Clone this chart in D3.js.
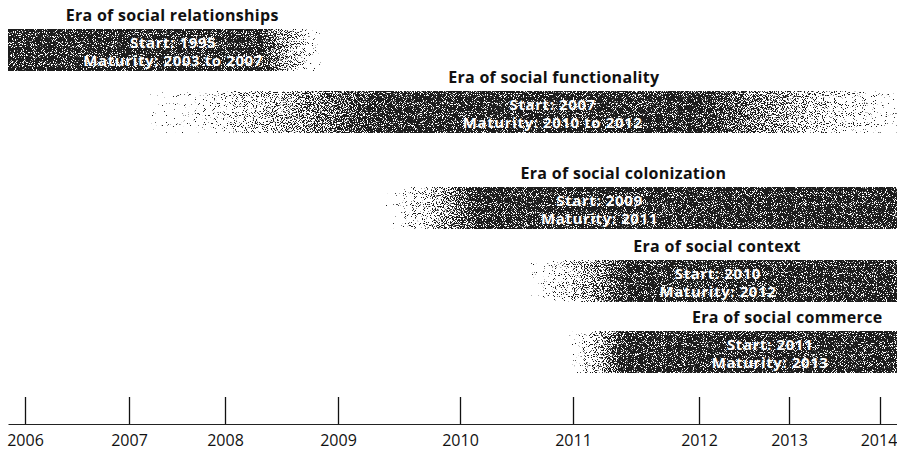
<!DOCTYPE html>
<html>
<head>
<meta charset="utf-8">
<script src="https://cdn.jsdelivr.net/npm/d3@7"></script>
<style>
  html, body { margin: 0; padding: 0; background: #fff; }
  svg { display: block; }
</style>
</head>
<body>
<svg id="chart" width="897" height="451"></svg>
<script>
// Timeline eras of social media
const eras = [
  "Era of social relationships",
  "Era of social functionality",
  "Era of social colonization",
  "Era of social context",
  "Era of social commerce"
];
const startYears = ["1995", "2007", "2009", "2010", "2011"];
const maturityYears = ["2003 to 2007", "2010 to 2012", "2011", "2012", "2013"];

// Extent of each era band along the timeline (in years)
const fadeInFrom = [2005.84, 2007.2, 2009.4, 2010.6, 2010.95];
const solidFrom  = [2005.84, 2009.35, 2010.15, 2011.45, 2011.4];
const solidTo    = [2008.3, 2012.0, 2014.19, 2014.19, 2014.19];
const fadeOutTo  = [2008.85, 2014.19, 2014.19, 2014.19, 2014.19];

const tickYears = [2006, 2007, 2008, 2009, 2010, 2011, 2012, 2013, 2014];

// ---- layout ----
const width = 897, height = 451;
const axisY = 424, tickLen = 27, bandH = 42;
// uneven year spacing of the timeline ruler
const axisDomain = [2005.84, ...tickYears, 2014.19];
const axisRange  = [8, 25, 129, 225, 338, 460, 573, 699, 789, 880, 897];
const rowTops = [29, 91, 187, 260, 331];
const titleAt = [2007.45, 2010.83, 2011.4, 2012.2, 2012.98];
const noteAt  = [2007.46, 2010.82, 2011.21, 2012.21, 2012.79];
const fontStack = "'Open Sans', Lato, sans-serif";
const peak = 0.69;   // density of the stipple in the solid part of a band

const x = d3.scaleLinear().domain(axisDomain).range(axisRange);
const y = d3.scaleOrdinal().domain(eras).range(rowTops);

const svg = d3.select("#chart");
const defs = svg.append("defs");

// stippled texture: threshold fine noise against the band's opacity
const grain = defs.append("filter").attr("id", "grain")
  .attr("x", 0).attr("y", 0).attr("width", 1).attr("height", 1)
  .attr("filterUnits", "objectBoundingBox")
  .attr("color-interpolation-filters", "sRGB");
grain.append("feTurbulence").attr("type", "fractalNoise")
  .attr("baseFrequency", 1.1).attr("numOctaves", 1).attr("seed", 7).attr("result", "noise");
grain.append("feColorMatrix").attr("in", "noise").attr("type", "matrix")
  .attr("values", "0 0 0 0 0  0 0 0 0 0  0 0 0 0 0  1 0 0 0 0").attr("result", "noiseA");
// alpha - 2*(noise - 0.5) compared against 0.5
grain.append("feComposite").attr("in", "SourceAlpha").attr("in2", "noiseA")
  .attr("operator", "arithmetic").attr("k1", 0).attr("k2", 1).attr("k3", -2).attr("k4", 1)
  .attr("result", "diff");
const ct = grain.append("feComponentTransfer").attr("in", "diff").attr("result", "mask");
ct.append("feFuncA").attr("type", "linear").attr("slope", 10).attr("intercept", -4.5);
grain.append("feFlood").attr("flood-color", "#1c1c1c").attr("result", "ink");
grain.append("feComposite").attr("in", "ink").attr("in2", "mask").attr("operator", "in");

eras.forEach((era, i) => {
  const g = defs.append("linearGradient")
    .attr("id", "band" + i)
    .attr("gradientUnits", "userSpaceOnUse")
    .attr("x1", x(fadeInFrom[i])).attr("x2", x(fadeOutTo[i]))
    .attr("y1", 0).attr("y2", 0);
  const span = x(fadeOutTo[i]) - x(fadeInFrom[i]);
  const off = v => Math.max(0, Math.min(1, (x(v) - x(fadeInFrom[i])) / span));
  const stops = [
    [0, solidFrom[i] === fadeInFrom[i] ? peak : 0],
    [off(solidFrom[i]), peak],
    [off(solidTo[i]), peak],
    [1, fadeOutTo[i] === solidTo[i] ? peak : 0.08]
  ];
  g.selectAll("stop").data(stops).join("stop")
    .attr("offset", d => d[0])
    .attr("stop-color", "#000")
    .attr("stop-opacity", d => d[1]);
});

const rows = svg.append("g").selectAll("g.era")
  .data(eras).join("g").attr("class", "era");

rows.append("rect")
  .attr("x", (d, i) => x(fadeInFrom[i]))
  .attr("y", d => y(d))
  .attr("width", (d, i) => x(fadeOutTo[i]) - x(fadeInFrom[i]))
  .attr("height", bandH)
  .attr("fill", (d, i) => `url(#band${i})`)
  .attr("filter", "url(#grain)");

rows.append("text")
  .attr("x", (d, i) => x(titleAt[i]))
  .attr("y", d => y(d) - 8)
  .attr("text-anchor", "middle")
  .style("font-family", fontStack)
  .style("font-weight", 700)
  .style("font-size", "16px")
  .style("letter-spacing", "0.3px")
  .style("fill", "#111")
  .text(d => d);

// start / maturity note, two lines inside the band
const note = rows.append("text")
  .attr("text-anchor", "middle")
  .style("font-family", fontStack)
  .style("font-weight", 700)
  .style("font-size", "15px")
  .style("letter-spacing", "0.6px")
  .style("fill", "#ffffff");

note.append("tspan")
  .attr("x", (d, i) => x(noteAt[i]))
  .attr("y", d => y(d) + 19)
  .text((d, i) => "Start: " + startYears[i]);

note.append("tspan")
  .attr("x", (d, i) => x(noteAt[i]))
  .attr("y", d => y(d) + 37)
  .text((d, i) => "Maturity: " + maturityYears[i]);

// timeline ruler
const axis = d3.axisBottom(x)
  .tickValues(tickYears)
  .tickFormat(d3.format("d"))
  .tickSize(-tickLen)
  .tickSizeOuter(0)
  .tickPadding(11);

const ax = svg.append("g")
  .attr("transform", `translate(0,${axisY})`)
  .call(axis);
ax.select(".domain").attr("stroke", "#222").attr("stroke-width", 1.2);
ax.selectAll(".tick line").attr("stroke", "#111").attr("stroke-width", 1.3);
ax.selectAll(".tick text")
  .style("font-family", fontStack)
  .style("font-size", "16px")
  .style("fill", "#111");
ax.selectAll(".tick text").filter(d => d === tickYears[tickYears.length - 1])
  .attr("dx", -1.5);
</script>
</body>
</html>
